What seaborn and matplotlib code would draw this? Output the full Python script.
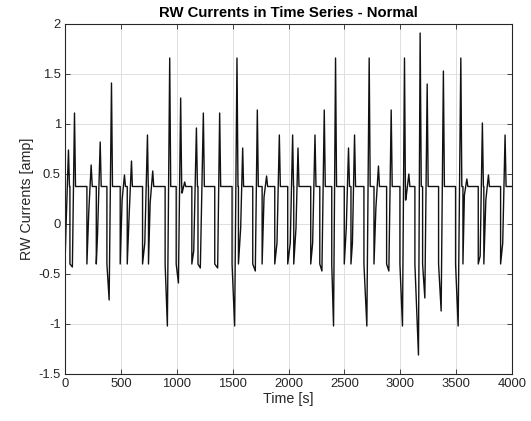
import matplotlib
matplotlib.use("Agg")
import pandas as pd
import matplotlib.pyplot as plt
import seaborn as sns

# RW current, normal run: flat level with short maneuver spikes
baseline = 0.375
ev_start = [0, 44, 196, 280, 375, 494, 557, 694, 747, 896, 995, 1046, 1135, 1190,
            1340, 1495, 1552, 1680, 1764, 1877, 1993, 2047, 2199, 2280, 2387, 2499,
            2559, 2675, 2765, 2878, 2997, 3047, 3131, 3200, 3343, 3495, 3561, 3698,
            3748, 3898]
ev_floor = [-0.4, -0.4, -0.4, -0.4, -0.4, -0.4, -0.4, -0.4, -0.4, -0.4, -0.4, 0.31,
            -0.4, -0.4, -0.4, -0.4, -0.4, -0.4, -0.4, -0.4, -0.4, -0.4, -0.4, -0.4,
            -0.4, -0.4, -0.4, -0.4, -0.4, -0.4, -0.4, 0.24, -0.4, -0.4, -0.4, -0.4,
            -0.4, -0.4, -0.4, -0.4]
ev_low_t = [10, 66, 213, 291, 395, 511, 574, 714, 762, 916, 1015, 1048, 1152, 1211,
            1366, 1518, 1572, 1703, 1781, 1897, 2016, 2067, 2216, 2299, 2403, 2517,
            2572, 2701, 2782, 2898, 3020, 3050, 3163, 3220, 3366, 3518, 3574, 3715,
            3766, 3917]
ev_low = [0.0, -0.43, 0.13, -0.11, -0.76, 0.24, 0.09, -0.19, 0.21, -1.02, -0.59, 0.31,
          -0.27, -0.44, -0.44, -1.02, -0.04, -0.47, 0.27, -0.19, -0.19, -0.04, -0.19,
          -0.47, -1.02, -0.04, -0.19, -1.02, 0.16, -0.47, -1.02, 0.24, -1.31, -0.74,
          -0.87, -1.02, 0.29, -0.32, 0.24, -0.19]
ev_high_t = [31, 85, 234, 315, 416, 532, 595, 738, 785, 937, 1035, 1071, 1176, 1238,
             1384, 1539, 1590, 1721, 1804, 1918, 2037, 2085, 2237, 2320, 2421, 2537,
             2591, 2722, 2805, 2919, 3038, 3077, 3178, 3241, 3386, 3542, 3596, 3735,
             3789, 3938]
ev_high = [0.74, 1.11, 0.59, 0.82, 1.41, 0.49, 0.63, 0.89, 0.53, 1.66, 1.26, 0.42,
           0.96, 1.11, 1.11, 1.66, 0.76, 1.14, 0.48, 0.89, 0.89, 0.76, 0.89, 1.14,
           1.66, 0.76, 0.89, 1.66, 0.58, 1.14, 1.66, 0.50, 1.91, 1.40, 1.53, 1.66,
           0.45, 1.01, 0.49, 0.89]
ev_end = [40, 94, 244, 324, 425, 541, 603, 745, 794, 946, 1044, 1080, 1185, 1247,
          1393, 1548, 1598, 1730, 1813, 1927, 2045, 2094, 2246, 2329, 2430, 2546,
          2600, 2731, 2814, 2928, 3046, 3086, 3188, 3250, 3395, 3551, 3605, 3744,
          3798, 3947]
t_end = 4000

# build the time series from the events
t, cur = [], []
for i in range(len(ev_start)):
    t += [ev_start[i], ev_start[i], ev_low_t[i], ev_high_t[i], ev_end[i]]
    cur += [baseline, ev_floor[i], ev_low[i], ev_high[i], baseline]
t.append(t_end)
cur.append(baseline)
df = pd.DataFrame({"Time": t, "Current": cur})

sns.set_style("white")
plt.rcParams["font.family"] = ["Liberation Sans", "DejaVu Sans"]
edge = "#262626"

fig = plt.figure(figsize=(5.31, 4.21), dpi=100)
ax = fig.add_axes([65 / 531, 1 - 374 / 421, 447 / 531, 350 / 421])
sns.lineplot(data=df, x="Time", y="Current", ax=ax, color="#111111", linewidth=1.0,
             estimator=None, sort=False)

ax.set_xlim(0, 4000)
ax.set_ylim(-1.5, 2)
ax.set_xticks(range(0, 4001, 500))
yt = [-1.5, -1, -0.5, 0, 0.5, 1, 1.5, 2]
ax.set_yticks(yt)
ax.set_yticklabels(["-1.5", "-1", "-0.5", "0", "0.5", "1", "1.5", "2"])
ax.grid(True, color="#dfdfdf", linewidth=0.7)
ax.set_axisbelow(True)
for s in ax.spines.values():
    s.set_color(edge)
    s.set_linewidth(0.8)
ax.tick_params(direction="in", length=3.5, width=0.6, colors=edge, labelsize=9.4,
               top=True, right=True, bottom=True, left=True, pad=3)

ax.set_xlabel("Time [s]", fontsize=10.3, color=edge, labelpad=1)
ax.set_ylabel("RW Currents [amp]", fontsize=10.3, color=edge, labelpad=3)
ax.set_title("RW Currents in Time Series - Normal", fontsize=10.7, fontweight="bold",
             color="black", pad=5)

fig.savefig("out.png", dpi=100)
plt.close(fig)
